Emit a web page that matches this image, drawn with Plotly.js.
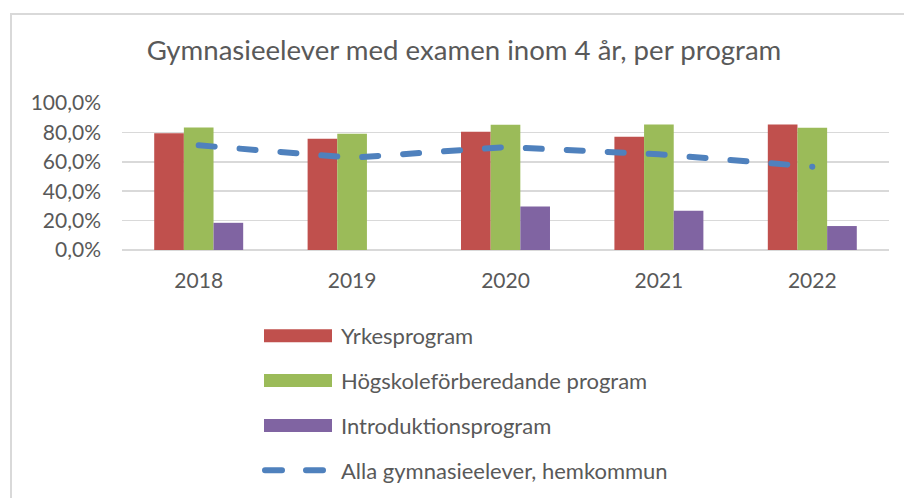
<!DOCTYPE html>
<html>
<head>
<meta charset="utf-8">
<script src="https://cdn.plot.ly/plotly-3.0.1.min.js"></script>
<style>
  html, body { margin: 0; padding: 0; background: #fff; }
  #frame { position: absolute; left: 10px; top: 13px; width: 894px; height: 485px;
           border-left: 2px solid #d9d9d9; border-top: 2px solid #d9d9d9; box-sizing: border-box; }
  #chart { position: absolute; left: 0; top: 0; width: 904px; height: 498px; }
  path.js-line { stroke-linecap: round !important; }
  .shapelayer path { stroke-linecap: round; }
</style>
</head>
<body>
<div id="frame"></div>
<div id="chart"></div>
<script>
const years = ['2018', '2019', '2020', '2021', '2022'];
const seriesNames = ['Yrkesprogram', 'Högskoleförberedande program', 'Introduktionsprogram', 'Alla gymnasieelever, hemkommun'];
const yrkes = [0.795, 0.757, 0.805, 0.771, 0.854];
const hogskole = [0.834, 0.791, 0.852, 0.854, 0.832];
const intro = [0.185, null, 0.296, 0.267, 0.163];
const alla = [0.712, 0.628, 0.700, 0.651, 0.567];
const yTicks = [0, 0.2, 0.4, 0.6, 0.8, 1.0];
const yTickText = ['0,0%', '20,0%', '40,0%', '60,0%', '80,0%', '100,0%'];
const colors = ['#C0504D', '#9BBB59', '#8064A2', '#4F81BD'];

const FONT = 'Lato, "Open Sans", sans-serif';
const lineDash = '16px,25px';

const traces = [
  { type: 'bar', name: seriesNames[0], x: years, y: yrkes, marker: { color: colors[0] } },
  { type: 'bar', name: seriesNames[1], x: years, y: hogskole, marker: { color: colors[1] } },
  { type: 'bar', name: seriesNames[2], x: years, y: intro, marker: { color: colors[2] } },
  { type: 'scatter', mode: 'lines', name: seriesNames[3], x: years, y: alla,
    line: { color: colors[3], width: 6, dash: lineDash } }
];

// custom legend (below the plot), laid out in paper coordinates
const plotL = 122, plotR = 889, plotT = 102.5, plotB = 250;
const pw = plotR - plotL, ph = plotB - plotT;
const px2x = p => (p - plotL) / pw;
const px2y = p => (plotB - p) / ph;
const rowY = [336, 381, 426, 471];
const shapes = [];
const annotations = [];
for (let i = 0; i < 4; i++) {
  if (i < 3) {
    shapes.push({ type: 'rect', xref: 'paper', yref: 'paper',
      x0: px2x(264), x1: px2x(332), y0: px2y(rowY[i] + 6.5), y1: px2y(rowY[i] - 6.5),
      fillcolor: colors[i], line: { width: 0 } });
  } else {
    shapes.push({ type: 'line', xref: 'paper', yref: 'paper',
      x0: px2x(265), x1: px2x(327), y0: px2y(rowY[i]), y1: px2y(rowY[i]),
      line: { color: colors[i], width: 6, dash: '17px,24px' } });
  }
  annotations.push({ xref: 'paper', yref: 'paper', x: px2x(339), y: px2y(rowY[i]),
    xanchor: 'left', yanchor: 'middle', showarrow: false, text: seriesNames[i],
    font: { family: FONT, size: 22, color: '#595959' } });
}

const layout = {
  width: 904, height: 498,
  paper_bgcolor: 'rgba(0,0,0,0)', plot_bgcolor: 'rgba(0,0,0,0)',
  margin: { l: plotL, r: 904 - plotR, t: plotT, b: 498 - plotB, pad: 0 },
  title: { text: 'Gymnasieelever med examen inom 4 år, per program',
    font: { family: FONT, size: 27.6, color: '#595959' },
    x: 464 / 904, xref: 'container', xanchor: 'center', y: 1 - 50 / 498, yref: 'container', yanchor: 'middle' },
  showlegend: false,
  barmode: 'group', bargap: 0.42, bargroupgap: 0,
  xaxis: { type: 'category', showgrid: false, showline: false, zeroline: false, ticks: '',
    tickfont: { family: FONT, size: 21, color: '#595959' }, ticklabelstandoff: 16 },
  yaxis: { range: [0, 1.0], tickvals: yTicks, ticktext: yTickText, showgrid: true,
    gridcolor: '#d9d9d9', gridwidth: 1.5, zeroline: true, zerolinecolor: '#d9d9d9', zerolinewidth: 1.5,
    showline: false, ticks: '', tickfont: { family: FONT, size: 21, color: '#595959' },
    ticklabelstandoff: 20 },
  shapes: shapes,
  annotations: annotations
};

Plotly.newPlot('chart', traces, layout, { displayModeBar: false, staticPlot: true });
</script>
</body>
</html>
